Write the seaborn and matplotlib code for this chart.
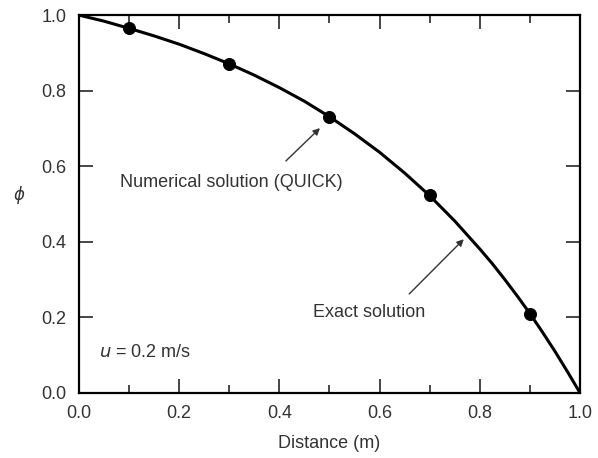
import matplotlib
matplotlib.use("Agg")
import matplotlib.pyplot as plt
import seaborn as sns
import pandas as pd
from matplotlib.ticker import MultipleLocator

# ------------------ DATA ------------------
exact_x = [0.0, 0.05, 0.10, 0.15, 0.20, 0.25, 0.30, 0.35, 0.40, 0.45, 0.50,
           0.55, 0.60, 0.65, 0.70, 0.75, 0.80, 0.825, 0.85, 0.875, 0.90,
           0.925, 0.95, 0.975, 1.0]
exact_phi = [1.0, 0.984, 0.965, 0.945, 0.923, 0.898, 0.871, 0.841, 0.808, 0.772, 0.731,
             0.686, 0.637, 0.582, 0.522, 0.455, 0.381, 0.342, 0.300, 0.256, 0.210,
             0.161, 0.110, 0.056, 0.0]

quick_x = [0.1, 0.3, 0.5, 0.7, 0.9]
quick_phi = [0.965, 0.871, 0.731, 0.523, 0.210]

x_ticks = [0.0, 0.2, 0.4, 0.6, 0.8, 1.0]
y_ticks = [0.0, 0.2, 0.4, 0.6, 0.8, 1.0]

exact_df = pd.DataFrame({"x": exact_x, "phi": exact_phi})
quick_df = pd.DataFrame({"x": quick_x, "phi": quick_phi})

# ------------------ STYLE ------------------
sns.set_style("ticks")
plt.rcParams["font.family"] = ["Liberation Sans", "DejaVu Sans"]
txt_color = "#333333"

fig = plt.figure(figsize=(5.98, 4.58), dpi=100)
ax = fig.add_axes([0.132, 0.142, 0.838, 0.825])

# ------------------ CURVES ------------------
sns.lineplot(x="x", y="phi", data=exact_df, ax=ax, color="black", linewidth=2.2)
sns.scatterplot(x="x", y="phi", data=quick_df, ax=ax, color="black", s=75,
                edgecolor="black", zorder=5)

ax.set_xlim(0, 1)
ax.set_ylim(0, 1)
ax.set_xticks(x_ticks)
ax.set_yticks(y_ticks)
ax.set_xticklabels([f"{t:.1f}" for t in x_ticks])
ax.set_yticklabels([f"{t:.1f}" for t in y_ticks])
ax.xaxis.set_minor_locator(MultipleLocator(0.1))

ax.tick_params(which="major", direction="in", length=10, width=1.2,
               top=True, right=True, labelsize=13, labelcolor=txt_color, pad=9)
ax.tick_params(which="minor", direction="in", length=6, width=1.2,
               top=True, right=False)
ax.tick_params(axis="y", which="minor", left=False, right=False)

for sp in ax.spines.values():
    sp.set_linewidth(1.6)
    sp.set_color("black")

ax.set_xlabel("Distance (m)", fontsize=13, color=txt_color, labelpad=9)
ax.set_ylabel("ϕ", fontsize=12, color=txt_color, rotation=0, labelpad=16,
              family=["DejaVu Sans"], style="italic")

# ------------------ ANNOTATIONS ------------------
arrow = dict(arrowstyle="-|>", color=txt_color, lw=1.0,
             shrinkA=0, shrinkB=0, mutation_scale=10)
ax.text(0.305, 0.558, "Numerical solution (QUICK)", ha="center", va="center",
        fontsize=13, color=txt_color)
ax.annotate("", xy=(0.481, 0.701), xytext=(0.413, 0.614), arrowprops=arrow)
ax.text(0.579, 0.212, "Exact solution", ha="center", va="center",
        fontsize=13, color=txt_color)
ax.annotate("", xy=(0.768, 0.407), xytext=(0.659, 0.262), arrowprops=arrow)
ax.text(0.04, 0.106, "$u$ = 0.2 m/s", ha="left", va="center",
        fontsize=13, color=txt_color)

fig.savefig("out.png", dpi=100)
